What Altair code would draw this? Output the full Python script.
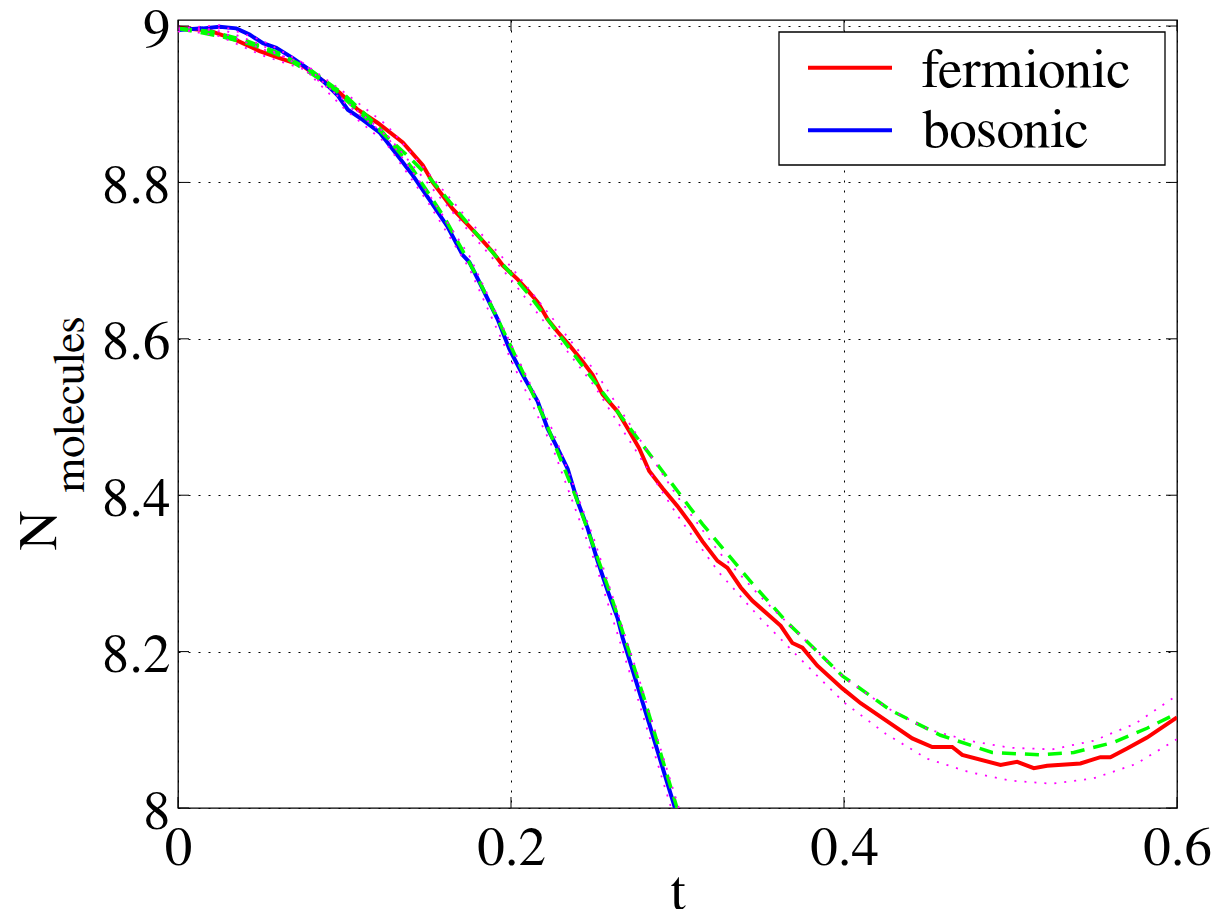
import altair as alt
import pandas as pd

# ---------------- data ----------------
ferm_t = [0.000, 0.019, 0.035, 0.049, 0.061, 0.075, 0.087, 0.097, 0.108, 0.120,
          0.135, 0.147, 0.153, 0.165, 0.174, 0.181, 0.189, 0.195, 0.204, 0.210,
          0.216, 0.222, 0.228, 0.235, 0.243, 0.249, 0.255, 0.264, 0.271, 0.277,
          0.283, 0.291, 0.300, 0.308, 0.315, 0.324, 0.330, 0.338, 0.345, 0.354,
          0.362, 0.369, 0.375, 0.384, 0.399, 0.410, 0.428, 0.441, 0.453, 0.465,
          0.471, 0.494, 0.504, 0.514, 0.522, 0.542, 0.554, 0.560, 0.570, 0.582,
          0.600]
ferm_n = [8.998, 8.994, 8.982, 8.968, 8.959, 8.949, 8.930, 8.915, 8.893, 8.876,
          8.851, 8.822, 8.800, 8.766, 8.746, 8.730, 8.711, 8.694, 8.676, 8.662,
          8.647, 8.625, 8.609, 8.592, 8.571, 8.554, 8.529, 8.507, 8.482, 8.460,
          8.431, 8.409, 8.386, 8.363, 8.341, 8.316, 8.307, 8.282, 8.265, 8.248,
          8.233, 8.211, 8.205, 8.182, 8.153, 8.134, 8.108, 8.089, 8.078, 8.078,
          8.068, 8.055, 8.059, 8.051, 8.054, 8.057, 8.065, 8.065, 8.076, 8.090,
          8.116]

bos_t = [0.000, 0.015, 0.025, 0.035, 0.043, 0.051, 0.059, 0.069, 0.079, 0.087,
         0.096, 0.102, 0.111, 0.121, 0.132, 0.141, 0.151, 0.162, 0.171, 0.175,
         0.183, 0.192, 0.199, 0.207, 0.216, 0.222, 0.228, 0.234, 0.240, 0.246,
         0.252, 0.258, 0.264, 0.267, 0.275, 0.283, 0.291, 0.2985, 0.305]
bos_n = [8.995, 8.997, 8.999, 8.997, 8.989, 8.978, 8.972, 8.959, 8.944, 8.930,
         8.911, 8.893, 8.880, 8.864, 8.834, 8.809, 8.778, 8.743, 8.707, 8.698,
         8.664, 8.625, 8.587, 8.554, 8.520, 8.485, 8.460, 8.434, 8.392, 8.358,
         8.316, 8.278, 8.243, 8.218, 8.163, 8.108, 8.052, 8.000, 7.955]

fitf_t = [0.000, 0.025, 0.045, 0.065, 0.081, 0.095, 0.115, 0.139, 0.151, 0.161,
          0.177, 0.211, 0.241, 0.282, 0.315, 0.345, 0.366, 0.399, 0.428, 0.458,
          0.489, 0.518, 0.538, 0.562, 0.582, 0.600]
fitf_n = [8.997, 8.987, 8.976, 8.959, 8.938, 8.917, 8.878, 8.832, 8.806, 8.781,
          8.740, 8.656, 8.571, 8.456, 8.363, 8.287, 8.237, 8.169, 8.125, 8.093,
          8.071, 8.068, 8.071, 8.084, 8.102, 8.121]

fitb_t = [0.000, 0.020, 0.040, 0.060, 0.080, 0.100, 0.120, 0.140, 0.160, 0.180,
          0.200, 0.220, 0.240, 0.260, 0.280, 0.300, 0.305]
fitb_n = [8.997, 8.993, 8.982, 8.966, 8.943, 8.912, 8.872, 8.820, 8.755, 8.678,
          8.590, 8.498, 8.392, 8.272, 8.140, 7.998, 7.962]

bandf_t = [0.000, 0.025, 0.050, 0.075, 0.100, 0.125, 0.150, 0.175, 0.200, 0.225,
           0.250, 0.275, 0.300, 0.325, 0.350, 0.375, 0.400, 0.425, 0.450, 0.475,
           0.500, 0.525, 0.550, 0.575, 0.600]
bandf_hi = [9.000, 8.993, 8.971, 8.953, 8.915, 8.874, 8.813, 8.751, 8.692, 8.626,
            8.560, 8.479, 8.398, 8.327, 8.270, 8.218, 8.167, 8.129, 8.101, 8.086,
            8.077, 8.075, 8.086, 8.108, 8.144]
bandf_lo = [8.996, 8.987, 8.963, 8.945, 8.905, 8.862, 8.799, 8.737, 8.676, 8.608,
            8.540, 8.457, 8.374, 8.301, 8.242, 8.188, 8.135, 8.095, 8.063, 8.046,
            8.035, 8.031, 8.038, 8.056, 8.088]

bandb_t = [0.000, 0.025, 0.050, 0.075, 0.100, 0.125, 0.150, 0.175, 0.200, 0.225,
           0.250, 0.275, 0.2985, 0.305]
bandb_hi = [8.997, 9.001, 8.982, 8.953, 8.902, 8.860, 8.787, 8.706, 8.593, 8.483,
            8.343, 8.178, 8.016, 7.971]
bandb_lo = [8.993, 8.997, 8.976, 8.947, 8.894, 8.850, 8.775, 8.690, 8.573, 8.461,
            8.317, 8.148, 7.984, 7.939]

x_ticks = [0, 0.2, 0.4, 0.6]
y_ticks = [8, 8.2, 8.4, 8.6, 8.8, 9]
legend_labels = ["fermionic", "bosonic"]
legend_colors = ["#ff0000", "#0000ff"]

# ---------------- tables ----------------
def curve(ts, ns, name):
    return pd.DataFrame({"t": ts, "N": ns, "curve": name})

df_ferm = curve(ferm_t, ferm_n, "fermionic")
df_bos = curve(bos_t, bos_n, "bosonic")
df_fit = pd.concat([curve(fitf_t, fitf_n, "fit fermionic"),
                    curve(fitb_t, fitb_n, "fit bosonic")])
df_band = pd.concat([curve(bandf_t, bandf_hi, "f hi"), curve(bandf_t, bandf_lo, "f lo"),
                     curve(bandb_t, bandb_hi, "b hi"), curve(bandb_t, bandb_lo, "b lo")])
df_xt = pd.DataFrame({"t": x_ticks})
df_yt = pd.DataFrame({"N": y_ticks})

FONT = "FreeSerif"
FS = 55

xscale = alt.Scale(domain=[0, 0.6], nice=False, zero=False)
yscale = alt.Scale(domain=[8, 9.0077], nice=False, zero=False)

xaxis = alt.Axis(values=x_ticks, format=".1~f", grid=True, gridDash=[2, 8],
                 gridColor="#000000", gridWidth=1, ticks=False, domain=False,
                 labelFont=FONT, labelFontSize=FS, labelColor="black",
                 labelPadding=13, labelFlush=False, labelOverlap=False,
                 title="t", titleFont=FONT, titleFontSize=FS, titleFontWeight="normal",
                 titleColor="black", titleX=499.5, titleY=100,
                 titleBaseline="alphabetic", titleAlign="center")
yaxis = alt.Axis(values=y_ticks, format=".1~f", grid=True, gridDash=[2, 8],
                 gridColor="#000000", gridWidth=1, ticks=False, domain=False,
                 labelFont=FONT, labelFontSize=FS, labelColor="black",
                 labelPadding=8, labelFlush=False, labelOverlap=False, labelOffset=3,
                 title="N", titleFont=FONT, titleFontSize=FS, titleFontWeight="normal",
                 titleColor="black", titleX=-123, titleY=510, titleAngle=270,
                 titleBaseline="alphabetic", titleAlign="center")

X = alt.X("t:Q", scale=xscale, axis=xaxis)
Y = alt.Y("N:Q", scale=yscale, axis=yaxis)

red = alt.Chart(df_ferm).mark_line(color="#ff0000", strokeWidth=4, clip=True).encode(x=X, y=Y)
blue = alt.Chart(df_bos).mark_line(color="#0000ff", strokeWidth=4, clip=True).encode(x=X, y=Y)
fits = alt.Chart(df_fit).mark_line(color="#00ff00", strokeWidth=3.5, strokeDash=[14, 9],
                                   clip=True).encode(x=X, y=Y, detail="curve:N")
bands = alt.Chart(df_band).mark_line(color="#ff00ff", strokeWidth=1.8, strokeDash=[2, 8],
                                     clip=True).encode(x=X, y=Y, detail="curve:N")

# inward ticks on all four sides
tick_b = alt.Chart(df_xt).mark_rule(color="black", strokeWidth=1).encode(
    x=X, y=alt.value(788), y2=alt.value(777))
tick_t = alt.Chart(df_xt).mark_rule(color="black", strokeWidth=1).encode(
    x=X, y=alt.value(0), y2=alt.value(11))
tick_l = alt.Chart(df_yt).mark_rule(color="black", strokeWidth=1).encode(
    y=Y, x=alt.value(0), x2=alt.value(11))
tick_r = alt.Chart(df_yt).mark_rule(color="black", strokeWidth=1).encode(
    y=Y, x=alt.value(999), x2=alt.value(988))

# subscript of the y title
sub = alt.Chart(pd.DataFrame({"label": ["molecules"]})).mark_text(
    font=FONT, fontSize=45, angle=270, align="center", baseline="alphabetic",
    color="black").encode(text="label:N", x=alt.value(-94), y=alt.value(384.5))

# legend box
one = pd.DataFrame({"k": [0]})
box = alt.Chart(one).mark_rect(fill="white", stroke="black", strokeWidth=1.3).encode(
    x=alt.value(601), x2=alt.value(987), y=alt.value(12), y2=alt.value(145))
legend_layers = [box]
rule_y = [47.7, 110.3]
text_y = [66.7, 126.7]
for i, (lab, col) in enumerate(zip(legend_labels, legend_colors)):
    d = pd.DataFrame({"label": [lab]})
    legend_layers.append(alt.Chart(d).mark_rule(color=col, strokeWidth=4).encode(
        x=alt.value(630), x2=alt.value(714), y=alt.value(rule_y[i])))
    legend_layers.append(alt.Chart(d).mark_text(
        font=FONT, fontSize=FS, align="left", baseline="alphabetic", color="black").encode(
        text="label:N", x=alt.value(744), y=alt.value(text_y[i])))

chart = alt.layer(red, blue, fits, bands, tick_b, tick_t, tick_l, tick_r, sub,
                  *legend_layers).properties(
    width=999, height=788,
    padding={"left": 170, "top": 12, "right": 35, "bottom": 101},
    autosize=alt.AutoSizeParams(type="none"),
    background="white",
).configure_view(stroke="black", strokeWidth=1.3)

chart.save("out.html", embed_options={"renderer": "svg", "actions": False})
